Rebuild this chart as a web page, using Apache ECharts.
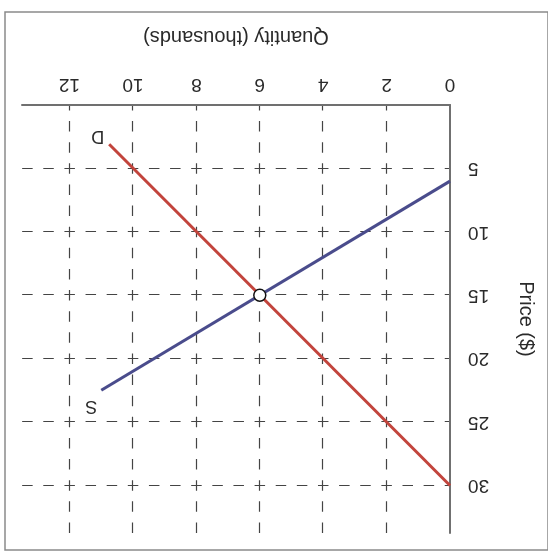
<!DOCTYPE html>
<html>
<head>
<meta charset="utf-8">
<script src="https://cdn.jsdelivr.net/npm/echarts@6/dist/echarts.min.js"></script>
<style>
  html, body { margin: 0; padding: 0; background: #fff; }
  /* the reference is printed upside down, so the whole chart is turned */
  #chart { width: 548px; height: 552px; transform: rotate(180deg); }
</style>
</head>
<body>
<div id="chart"></div>
<script>
// demand line D
const demandQ = [0, 10.75]
const demandP = [30, 3.1]
// supply line S
const supplyQ = [0, 11]
const supplyP = [6, 22.5]
// equilibrium point
const equilibrium = [6, 15]

const xAxisName = 'Quantity (thousands)'
const yAxisName = 'Price ($)'

const chart = echarts.init(document.getElementById('chart'), null, { renderer: 'canvas' })

const textColor = '#2a2a2a'
const font = 'Liberation Sans, Arial, sans-serif'
const narrowFont = 'Liberation Sans Narrow, Arial Narrow, Liberation Sans, sans-serif'

const gridDash = {
  color: '#444',
  width: 1.2,
  type: [10.5, 10.63],
}

const option = {
  backgroundColor: '#fff',
  animation: false,
  grid: { left: 98, right: 22, top: 19, bottom: 105 },
  graphic: [
    {
      type: 'rect',
      shape: { x: 0, y: 2, width: 543, height: 538 },
      style: { fill: 'none', stroke: '#8a8a8a', lineWidth: 1.5 },
      silent: true,
    },
  ],
  xAxis: {
    type: 'value',
    min: 0,
    max: 13.5,
    interval: 2,
    name: xAxisName,
    nameLocation: 'middle',
    nameGap: 58,
    nameTextStyle: { fontSize: 20, color: textColor, fontFamily: font },
    axisLine: { show: true, lineStyle: { color: '#707070', width: 2 } },
    axisTick: { show: false },
    axisLabel: { fontSize: 19, color: textColor, fontFamily: narrowFont, margin: 11, showMaxLabel: false },
    splitLine: {
      show: true,
      showMinLine: false,
      showMaxLine: false,
      lineStyle: { ...gridDash, dashOffset: 0 },
    },
  },
  yAxis: {
    type: 'value',
    min: 0,
    max: 33.75,
    interval: 5,
    name: yAxisName,
    nameLocation: 'middle',
    nameGap: 66,
    nameRotate: 90,
    nameTextStyle: { fontSize: 20, color: textColor, fontFamily: font },
    axisLine: { show: true, lineStyle: { color: '#707070', width: 2 } },
    axisTick: { show: false },
    axisLabel: { fontSize: 19, color: textColor, fontFamily: narrowFont, margin: 18, showMinLabel: false, showMaxLabel: false },
    splitLine: {
      show: true,
      showMinLine: false,
      showMaxLine: false,
      lineStyle: { ...gridDash, dashOffset: 5.25 },
    },
  },
  series: [
    {
      name: 'D',
      type: 'line',
      data: demandQ.map((q, i) => [q, demandP[i]]),
      symbol: 'none',
      lineStyle: { color: '#c2443c', width: 3 },
      endLabel: {
        show: true,
        formatter: 'D',
        distance: 5,
        offset: [0, 8],
        fontSize: 18,
        color: textColor,
        fontFamily: font,
      },
      z: 3,
    },
    {
      name: 'S',
      type: 'line',
      data: supplyQ.map((q, i) => [q, supplyP[i]]),
      symbol: 'none',
      lineStyle: { color: '#4a4c8c', width: 3 },
      endLabel: {
        show: true,
        formatter: 'S',
        distance: 4,
        offset: [0, -16],
        fontSize: 18,
        color: textColor,
        fontFamily: font,
      },
      z: 3,
    },
    {
      type: 'scatter',
      data: [equilibrium],
      symbol: 'circle',
      symbolSize: 12,
      itemStyle: { color: '#fff', opacity: 1, borderColor: '#111', borderWidth: 1.5 },
      z: 5,
    },
  ],
}

chart.setOption(option)
</script>
</body>
</html>
